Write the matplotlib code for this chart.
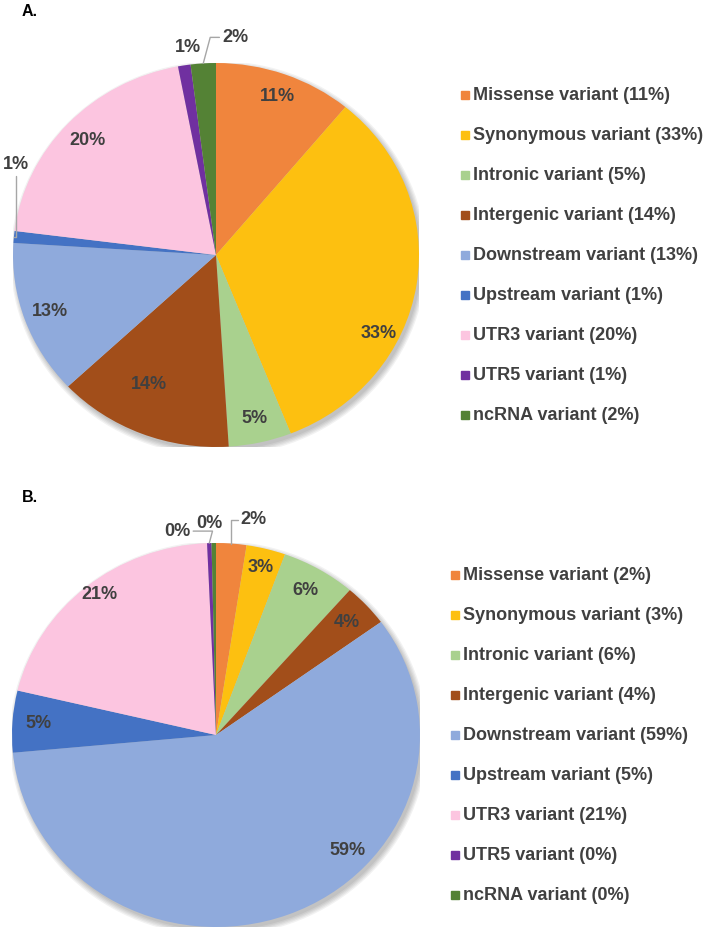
import numpy as np
import matplotlib
matplotlib.use("Agg")
import matplotlib.pyplot as plt
from matplotlib.patches import Ellipse

plt.rcParams['font.family'] = ['Liberation Sans', 'DejaVu Sans']

categories = ["Missense variant", "Synonymous variant", "Intronic variant",
              "Intergenic variant", "Downstream variant", "Upstream variant",
              "UTR3 variant", "UTR5 variant", "ncRNA variant"]
colors = ["#F0853D", "#FDC010", "#A9D18E", "#A24E1A", "#8FAADC",
          "#4472C4", "#FCC5E0", "#7030A0", "#548235"]

# Panel A
pct_a = [11, 33, 5, 14, 13, 1, 20, 1, 2]
vals_a = [11, 33, 5, 14, 13, 1, 20, 1, 2]
# Panel B
pct_b = [2, 3, 6, 4, 59, 5, 21, 0, 0]
vals_b = [2.4, 3.1, 5.9, 3.6, 58.6, 5.2, 20.6, 0.35, 0.35]

W, H = 713, 942
fig = plt.figure(figsize=(W / 100, H / 100), dpi=100)
TXT = "#404040"


def pie_axes(cx, cy, rx, ry):
    return fig.add_axes([(cx - rx) / W, (H - cy - ry) / H, 2 * rx / W, 2 * ry / H])


def draw_panel(ax, vals, pct, inside, outside):
    # soft shadow
    for k in range(5):
        ax.add_patch(Ellipse((0.012, -0.018), 2 + 0.012 * k, 2 + 0.014 * k,
                             color='#000000', alpha=0.05, lw=0, zorder=0))
    wedges, _ = ax.pie(vals, colors=colors, startangle=90, counterclock=False,
                       radius=1, wedgeprops=dict(linewidth=0, zorder=1))
    ax.set_aspect('auto')
    ax.set_xlim(-1, 1)
    ax.set_ylim(-1, 1)
    ax.axis('off')
    total = sum(vals)
    cum = 0
    for i, v in enumerate(vals):
        mid = (cum + v / 2) / total * 360.0
        cum += v
        lab = f"{pct[i]}%"
        if i in outside:
            ang = np.deg2rad(90 - mid)
            dx, dy, leader = outside[i]
            ex, ey = np.cos(ang), np.sin(ang)
            ax.annotate(lab, xy=(ex, ey), xytext=(dx, dy), textcoords='offset pixels',
                        ha='center', va='center', fontsize=13, fontweight='bold',
                        color=TXT, annotation_clip=False, zorder=3,
                        arrowprops=(dict(arrowstyle='-', color='#A6A6A6', lw=1,
                                         connectionstyle=leader, shrinkA=0, shrinkB=0)
                                    if leader else None))
        else:
            a_deg, r = inside.get(i, (mid, 0.87))
            ang = np.deg2rad(90 - a_deg)
            ax.text(r * np.cos(ang), r * np.sin(ang), lab, ha='center', va='center',
                    fontsize=13, fontweight='bold', color=TXT, zorder=3)


axA = pie_axes(216, 255, 203, 192)
draw_panel(axA, vals_a, pct_a,
           {0: (20, 0.88), 1: (117, 0.9), 3: (206, 0.75)},
           {5: (2, 72, "angle,angleA=90,angleB=0,rad=0"),
            7: (4, 18, None),
            8: (32, 26, "angle,angleA=0,angleB=75,rad=0")})

axB = pie_axes(216, 735, 204, 192)
draw_panel(axB, vals_b, pct_b,
           {1: (14.2, 0.9), 4: (133, 0.88), 6: (322, 0.93)},
           {0: (22, 24, "angle,angleA=0,angleB=90,rad=0"),
            7: (-32, 12, "angle,angleA=0,angleB=75,rad=0"),
            8: (-4, 20, None)})

fig.text(22 / W, 1 - 11 / H, "A.", ha='left', va='center', fontsize=11.5,
         fontweight='bold', color='black')
fig.text(22 / W, 1 - 498 / H, "B.", ha='left', va='center', fontsize=11.5,
         fontweight='bold', color='black')


def legend(x_marker, y0, pct):
    for i, (c, col) in enumerate(zip(categories, colors)):
        y = y0 + i * 40
        fig.patches.append(plt.Rectangle(((x_marker - 4) / W, 1 - (y + 4) / H), 8 / W, 8 / H,
                                         transform=fig.transFigure, color=col))
        fig.text((x_marker + 8) / W, 1 - y / H, f"{c} ({pct[i]}%)", ha='left', va='center',
                 fontsize=13, fontweight='bold', color=TXT)


legend(465, 95, pct_a)
legend(455, 575, pct_b)

fig.savefig("out.png", dpi=100, facecolor='white')
